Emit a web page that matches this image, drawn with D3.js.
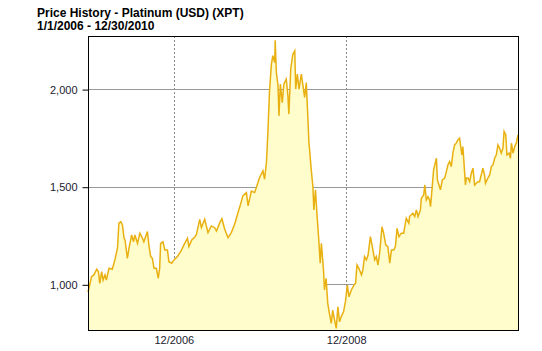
<!DOCTYPE html>
<html><head><meta charset="utf-8">
<script src="https://cdn.jsdelivr.net/npm/d3@7"></script>
<style>body{margin:0;background:#fff}svg{display:block}</style>
</head><body>
<svg id="c" width="542" height="351"></svg>
<script>
const title = "Price History - Platinum (USD) (XPT)";
const subtitle = "1/1/2006 - 12/30/2010";
const yTicks = [1000, 1500, 2000];
const xTicks = ["2006-12-31", "2008-12-31"];
const xTickLabels = ["12/2006", "12/2008"];
const dates = [
"2006-01-01","2006-01-05","2006-01-16","2006-01-26","2006-02-07","2006-02-14","2006-02-20","2006-02-28","2006-03-06","2006-03-14","2006-03-20","2006-03-31",
"2006-04-14","2006-04-25","2006-05-06","2006-05-12","2006-05-20","2006-05-27","2006-06-03","2006-06-07","2006-06-17","2006-06-24","2006-07-05","2006-07-13",
"2006-07-19","2006-07-30","2006-08-09","2006-08-20","2006-08-26","2006-09-10","2006-09-17","2006-09-24","2006-10-01","2006-10-08","2006-10-18","2006-10-26",
"2006-11-01","2006-11-05","2006-11-15","2006-11-23","2006-12-04","2006-12-10","2006-12-22","2007-01-01","2007-01-15","2007-01-29","2007-02-12","2007-02-27",
"2007-03-05","2007-03-17","2007-03-31","2007-04-06","2007-04-20","2007-04-27","2007-05-11","2007-05-25","2007-06-08","2007-06-22","2007-06-30","2007-07-14",
"2007-07-23","2007-08-04","2007-08-18","2007-09-01","2007-09-15","2007-09-29","2007-10-06","2007-10-20","2007-11-04","2007-11-11","2007-11-25","2007-12-09",
"2007-12-23","2007-12-30","2008-01-13","2008-01-20","2008-01-28","2008-02-03","2008-02-10","2008-02-18","2008-02-24","2008-03-03","2008-03-05","2008-03-10",
"2008-03-17","2008-03-21","2008-03-27","2008-04-04","2008-04-11","2008-04-21","2008-04-28","2008-05-02","2008-05-10","2008-05-19","2008-05-27","2008-05-31",
"2008-06-07","2008-06-14","2008-06-24","2008-07-01","2008-07-08","2008-07-15","2008-07-22","2008-07-26","2008-07-29","2008-08-05","2008-08-12","2008-08-16",
"2008-08-23","2008-08-29","2008-09-06","2008-09-12","2008-09-17","2008-09-26","2008-09-30","2008-10-07","2008-10-14","2008-10-21","2008-10-29","2008-11-04",
"2008-11-12","2008-11-19","2008-11-26","2008-12-03","2008-12-10","2008-12-20","2008-12-28","2009-01-05","2009-01-12","2009-01-22","2009-02-02","2009-02-09",
"2009-02-15","2009-02-23","2009-03-06","2009-03-12","2009-03-19","2009-03-27","2009-04-03","2009-04-13","2009-04-21","2009-05-01","2009-05-08","2009-05-15",
"2009-05-22","2009-06-01","2009-06-08","2009-06-17","2009-06-26","2009-07-04","2009-07-11","2009-07-21","2009-07-28","2009-08-04","2009-08-12","2009-08-22",
"2009-09-01","2009-09-12","2009-09-23","2009-09-26","2009-10-10","2009-10-18","2009-10-25","2009-11-01","2009-11-11","2009-11-15","2009-11-25","2009-11-30",
"2009-12-06","2009-12-13","2009-12-20","2009-12-24","2009-12-30","2010-01-06","2010-01-13","2010-01-18","2010-01-22","2010-01-29","2010-02-04","2010-02-12",
"2010-02-22","2010-03-01","2010-03-08","2010-03-15","2010-03-22","2010-03-29","2010-04-05","2010-04-12","2010-04-19","2010-04-26","2010-05-01","2010-05-06",
"2010-05-10","2010-05-15","2010-05-21","2010-05-25","2010-06-01","2010-06-08","2010-06-15","2010-06-22","2010-06-29","2010-07-06","2010-07-13","2010-07-20",
"2010-07-27","2010-08-03","2010-08-10","2010-08-14","2010-08-24","2010-09-01","2010-09-08","2010-09-15","2010-09-22","2010-09-29","2010-10-06","2010-10-13",
"2010-10-20","2010-10-27","2010-11-01","2010-11-08","2010-11-13","2010-11-22","2010-11-28","2010-12-02","2010-12-09","2010-12-16","2010-12-23","2010-12-30"
];
const prices = [
960,980,1039,1048,1077,1065,1005,1065,1022,1048,1022,1082,
1077,1125,1185,1313,1321,1304,1236,1227,1133,1185,1253,1218,
1253,1210,1262,1236,1218,1270,1193,1142,1133,1082,1082,1031,
1082,1210,1218,1176,1176,1116,1108,1125,1142,1167,1202,1236,
1193,1227,1244,1256,1333,1290,1333,1265,1299,1290,1273,1316,
1336,1282,1239,1265,1308,1367,1393,1453,1470,1402,1478,1470,
1521,1547,1581,1538,1624,1777,1991,2128,2171,2136,2250,2085,
2017,1863,2026,1931,2026,2051,1966,1872,2103,2179,2196,2000,
2077,2000,2077,2017,1957,2034,1846,1726,1689,1586,1500,1381,
1484,1364,1227,1108,1210,1073,971,1031,903,851,800,868,
817,774,885,808,834,859,911,996,936,971,996,1005,
1099,1082,1048,1073,1142,1125,1150,1244,1193,1125,1142,1099,
1159,1295,1262,1202,1193,1108,1176,1176,1193,1287,1244,1262,
1262,1338,1313,1347,1364,1347,1381,1347,1381,1441,1458,1509,
1432,1449,1432,1398,1484,1586,1620,1646,1535,1509,1484,1535,
1544,1577,1612,1629,1603,1672,1714,1723,1740,1749,1706,1663,
1706,1620,1509,1544,1544,1526,1569,1595,1509,1518,1526,1526,
1560,1595,1560,1518,1544,1560,1603,1612,1646,1663,1714,1697,
1672,1697,1783,1766,1663,1672,1646,1723,1672,1706,1723,1766
];

const parse = d3.timeParse("%Y-%m-%d");
const data = dates.map((d, i) => ({date: parse(d), value: prices[i]}));

const L = 88, R = 518, T = 36, B = 330;
const svg = d3.select("#c");
const x = d3.scaleTime().domain([parse("2006-01-01"), parse("2010-12-30")]).range([L, R]);
const y = d3.scaleLinear().domain([766, 2272]).range([B, T]);
const font = "Arial, 'Liberation Sans', sans-serif";

// title
svg.append("text").attr("x", 37).attr("y", 17).attr("font-family", font).attr("font-size", 12)
  .attr("font-weight", "bold").attr("fill", "#000").text(title);
svg.append("text").attr("x", 37).attr("y", 30).attr("font-family", font).attr("font-size", 12)
  .attr("font-weight", "bold").attr("fill", "#000").text(subtitle);

// gridlines
svg.append("g").selectAll("line").data(yTicks).join("line")
  .attr("x1", L).attr("x2", R)
  .attr("y1", d => Math.round(y(d)) + 0.5).attr("y2", d => Math.round(y(d)) + 0.5)
  .attr("stroke", "#999").attr("stroke-width", 1);
svg.append("g").selectAll("line").data(xTicks).join("line")
  .attr("x1", d => Math.round(x(parse(d))) + 0.5).attr("x2", d => Math.round(x(parse(d))) + 0.5)
  .attr("y1", T).attr("y2", B)
  .attr("stroke", "#888").attr("stroke-width", 1).attr("stroke-dasharray", "2,2");

// area + line
const area = d3.area().x(d => x(d.date)).y0(B).y1(d => y(d.value));
const line = d3.line().x(d => x(d.date)).y(d => y(d.value));
svg.append("path").datum(data).attr("d", area).attr("fill", "#FFFDCC");
svg.append("path").datum(data).attr("d", line).attr("fill", "none")
  .attr("stroke", "#E8B010").attr("stroke-width", 1.5).attr("stroke-linejoin", "miter");

// frame
svg.append("rect").attr("x", L + 0.5).attr("y", T + 0.5).attr("width", R - L).attr("height", B - T)
  .attr("fill", "none").attr("stroke", "#000").attr("stroke-width", 1);

// y axis
const yAxis = d3.axisLeft(y).tickValues(yTicks).tickFormat(d3.format(",")).tickSize(6).tickPadding(5);
const gy = svg.append("g").attr("transform", `translate(${L + 0.5},0.5)`).call(yAxis);
gy.select(".domain").remove();
gy.selectAll("text").attr("font-family", font).attr("font-size", 11).attr("fill", "#1a1a2e");
gy.selectAll("line").attr("stroke", "#000");

// x axis labels
const xAxis = d3.axisBottom(x).tickValues(xTicks.map(parse)).tickFormat((d, i) => xTickLabels[i]).tickSize(0).tickPadding(6);
const gx = svg.append("g").attr("transform", `translate(0,${B})`).call(xAxis);
gx.select(".domain").remove();
gx.selectAll("text").attr("font-family", font).attr("font-size", 11).attr("fill", "#1a1a2e");
</script>
</body></html>
